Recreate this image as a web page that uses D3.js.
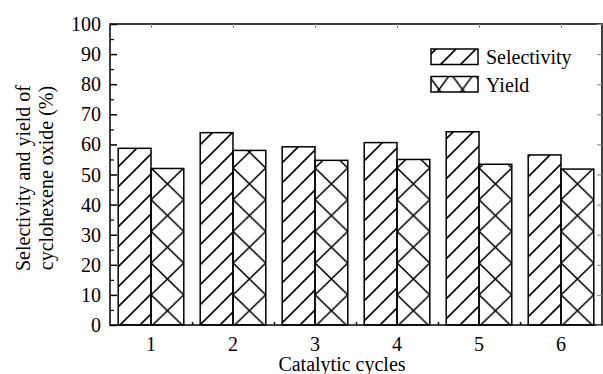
<!DOCTYPE html>
<html>
<head>
<meta charset="utf-8">
<script src="https://cdn.jsdelivr.net/npm/d3@7"></script>
<style>
  body { margin: 0; background: #fff; }
  text { font-family: "Liberation Serif", "DejaVu Serif", serif; }
</style>
</head>
<body>
<div id="chart"></div>
<script>
const cycles = [1, 2, 3, 4, 5, 6];
const selectivity = [58.7, 63.9, 59.2, 60.6, 64.2, 56.5];
const yieldValues = [52.0, 58.0, 54.7, 55.0, 53.4, 51.8];
const yTicks = [0, 10, 20, 30, 40, 50, 60, 70, 80, 90, 100];

const width = 603, height = 374;
const plotL = 110, plotR = 602, plotT = 24, plotB = 325;
const fs = 20;

const svg = d3.select('#chart').append('svg').attr('width', width).attr('height', height)
  .style('display', 'block');

const x = d3.scaleLinear().domain([0.5, 6.5]).range([plotL, plotR]);
const y = d3.scaleLinear().domain([0, 100]).range([plotB, plotT]);
const barW = x(1.4) - x(1);

// hatch patterns
const defs = svg.append('defs');
const sp = 20;
const sel = defs.append('pattern').attr('id', 'hatch-sel')
  .attr('patternUnits', 'userSpaceOnUse').attr('width', sp).attr('height', sp)
  .attr('y', plotB % sp);
sel.append('path').attr('d', `M0,${sp} L${sp},0 M${-sp / 2},${sp / 2} L${sp / 2},${-sp / 2} M${sp / 2},${sp * 1.5} L${sp * 1.5},${sp / 2}`)
  .attr('stroke', '#000').attr('stroke-width', 1.6);

const hy = 31.7;
cycles.forEach((c, i) => {
  const p = defs.append('pattern').attr('id', 'hatch-yield-' + i)
    .attr('patternUnits', 'userSpaceOnUse').attr('width', barW).attr('height', hy)
    .attr('x', x(c)).attr('y', (plotB + 1.5) % hy);
  p.append('path').attr('d', `M0,0 L${barW},${hy} M${barW},0 L0,${hy}`)
    .attr('stroke', '#000').attr('stroke-width', 1.6);
});

// bars
svg.append('g').selectAll('rect').data(cycles).join('rect')
  .attr('x', d => x(d) - barW).attr('width', barW)
  .attr('y', (d, i) => y(selectivity[i])).attr('height', (d, i) => y(0) - y(selectivity[i]))
  .attr('fill', 'url(#hatch-sel)').attr('stroke', '#000').attr('stroke-width', 1.5);

svg.append('g').selectAll('rect').data(cycles).join('rect')
  .attr('x', d => x(d)).attr('width', barW)
  .attr('y', (d, i) => y(yieldValues[i])).attr('height', (d, i) => y(0) - y(yieldValues[i]))
  .attr('fill', (d, i) => `url(#hatch-yield-${i})`).attr('stroke', '#000').attr('stroke-width', 1.5);

// frame
svg.append('rect').attr('x', plotL).attr('y', plotT).attr('width', plotR - plotL).attr('height', plotB - plotT)
  .attr('fill', 'none').attr('stroke', '#000').attr('stroke-width', 1.5);

// axes with inward ticks
const yMinor = d3.range(5, 100, 10);
const axisY = svg.append('g').attr('transform', `translate(${plotL},0)`)
  .call(d3.axisRight(y).tickValues(yTicks).tickSize(7).tickFormat(''));
axisY.select('.domain').remove();
axisY.selectAll('line').attr('stroke-width', 1.5);
const axisYm = svg.append('g').attr('transform', `translate(${plotL},0)`)
  .call(d3.axisRight(y).tickValues(yMinor).tickSize(4).tickFormat(''));
axisYm.select('.domain').remove();
axisYm.selectAll('line').attr('stroke-width', 1.2);

const axisR = svg.append('g').attr('transform', `translate(${plotR},0)`)
  .call(d3.axisLeft(y).tickValues(yTicks).tickSize(5).tickFormat(''));
axisR.select('.domain').remove();
axisR.selectAll('line').attr('stroke-width', 1).attr('stroke', '#888');

const axisT = svg.append('g').attr('transform', `translate(0,${plotT})`)
  .call(d3.axisBottom(x).tickValues(cycles).tickSize(4).tickFormat(''));
axisT.select('.domain').remove();
axisT.selectAll('line').attr('stroke-width', 1).attr('stroke', '#888');

const axisB = svg.append('g').attr('transform', `translate(0,${plotB})`)
  .call(d3.axisTop(x).tickValues(d3.range(1.5, 6.5, 1)).tickSize(3).tickFormat(''));
axisB.select('.domain').remove();
axisB.selectAll('line').attr('stroke-width', 1.5);

// tick labels
svg.append('g').selectAll('text').data(yTicks).join('text')
  .attr('x', plotL - 9).attr('y', d => y(d)).attr('dy', '0.35em')
  .attr('text-anchor', 'end').attr('font-size', fs).text(d => d);

svg.append('g').selectAll('text').data(cycles).join('text')
  .attr('x', d => x(d)).attr('y', 351)
  .attr('text-anchor', 'middle').attr('font-size', fs).text(d => d);

// axis titles
svg.append('text').attr('x', 342).attr('y', 371).attr('text-anchor', 'middle')
  .attr('font-size', fs).text('Catalytic cycles');

const yt = svg.append('text').attr('transform', 'translate(0,178) rotate(-90)')
  .attr('text-anchor', 'middle').attr('font-size', fs);
yt.append('tspan').attr('x', 0).attr('y', 30).text('Selectivity and yield of');
yt.append('tspan').attr('x', 0).attr('y', 53).text('cyclohexene oxide (%)');

// legend
const legend = [
  { name: 'Selectivity', fill: 'url(#hatch-sel)' },
  { name: 'Yield', fill: 'url(#hatch-yield-leg)' }
];
const lp = defs.append('pattern').attr('id', 'hatch-yield-leg')
  .attr('patternUnits', 'userSpaceOnUse').attr('width', 47 / 2).attr('height', 32)
  .attr('x', 431).attr('y', 77);
lp.append('path').attr('d', `M0,0 L${47 / 2},32 M${47 / 2},0 L0,32`)
  .attr('stroke', '#000').attr('stroke-width', 1.6);

const lg = svg.append('g').selectAll('g').data(legend).join('g')
  .attr('transform', (d, i) => `translate(431,${49 + i * 27.5})`);
lg.append('rect').attr('width', 47).attr('height', 15.5)
  .attr('fill', d => d.fill).attr('stroke', '#000').attr('stroke-width', 1.5);
lg.append('text').attr('x', 55).attr('y', 15).attr('font-size', fs).text(d => d.name);
</script>
</body>
</html>
